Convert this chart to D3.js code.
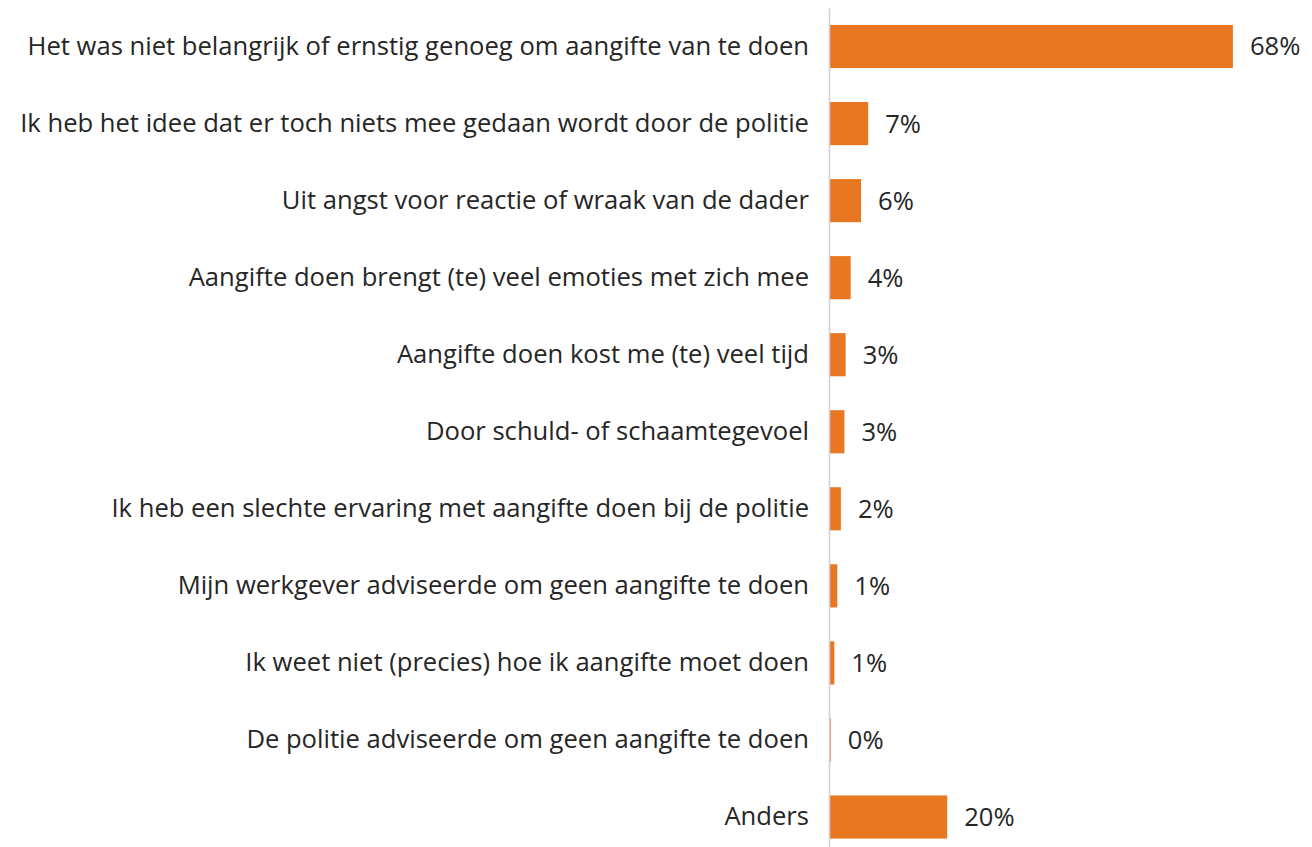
<!DOCTYPE html>
<html>
<head>
<meta charset="utf-8">
<script src="https://cdn.jsdelivr.net/npm/d3@7"></script>
<style>
  html, body { margin: 0; padding: 0; background: #ffffff; }
  svg { display: block; }
  text { font-family: "Open Sans", sans-serif; fill: #262626; }
</style>
</head>
<body>
<svg id="chart" width="1312" height="847"></svg>
<script>
const categories = [
  "Het was niet belangrijk of ernstig genoeg om aangifte van te doen",
  "Ik heb het idee dat er toch niets mee gedaan wordt door de politie",
  "Uit angst voor reactie of wraak van de dader",
  "Aangifte doen brengt (te) veel emoties met zich mee",
  "Aangifte doen kost me (te) veel tijd",
  "Door schuld- of schaamtegevoel",
  "Ik heb een slechte ervaring met aangifte doen bij de politie",
  "Mijn werkgever adviseerde om geen aangifte te doen",
  "Ik weet niet (precies) hoe ik aangifte moet doen",
  "De politie adviseerde om geen aangifte te doen",
  "Anders"
];
const values = [68, 6.6, 5.4, 3.65, 2.8, 2.6, 2.0, 1.4, 0.9, 0.3, 19.9];
const valueLabels = ["68%", "7%", "6%", "4%", "3%", "3%", "2%", "1%", "1%", "0%", "20%"];

const svg = d3.select("#chart");
const axisX = 829;
const fontSize = 25.6;

const y = d3.scaleBand()
  .domain(categories)
  .range([8, 8 + 77.05 * categories.length])
  .paddingInner(0.44)
  .paddingOuter(0.22);

const x = d3.scaleLinear().domain([0, 100]).range([axisX, axisX + 594]);

const data = categories.map((c, i) => ({ c, v: values[i], l: valueLabels[i] }));

svg.selectAll("rect.bar")
  .data(data)
  .join("rect")
  .attr("class", "bar")
  .attr("x", x(0))
  .attr("y", d => y(d.c))
  .attr("width", d => x(d.v) - x(0))
  .attr("height", y.bandwidth())
  .attr("fill", "#E87722");

const axis = d3.axisLeft(y).tickSizeInner(0).tickSizeOuter(0).tickPadding(20);
const g = svg.append("g").attr("transform", `translate(${axisX},0)`).call(axis);
g.select(".domain").attr("stroke", "#d0d0d0").attr("stroke-width", 1.5);
g.selectAll(".tick text")
  .style("font-family", '"Open Sans", sans-serif')
  .style("font-size", fontSize + "px")
  .attr("fill", "#262626");

svg.selectAll("text.val")
  .data(data)
  .join("text")
  .attr("class", "val")
  .attr("x", d => x(d.v) + 17)
  .attr("y", d => y(d.c) + y.bandwidth() / 2)
  .attr("dy", "0.35em")
  .style("font-size", fontSize + "px")
  .text(d => d.l);
</script>
</body>
</html>
